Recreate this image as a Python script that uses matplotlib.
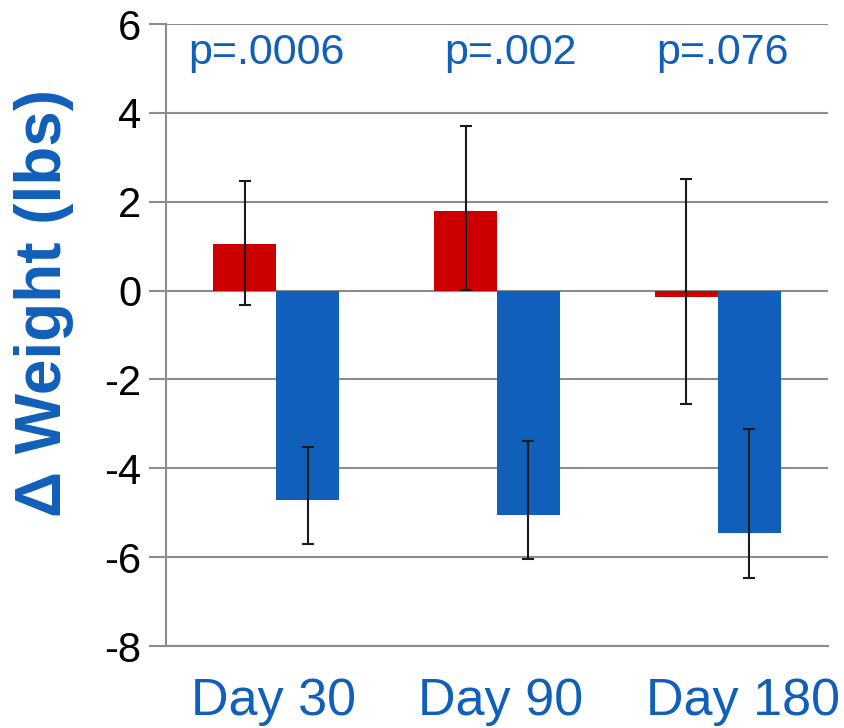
import matplotlib
matplotlib.use("Agg")
import matplotlib.pyplot as plt
import matplotlib.transforms as mtransforms
import numpy as np

categories = ["Day 30", "Day 90", "Day 180"]
red_values = [1.05, 1.79, -0.15]
red_err_low = [1.37, 1.77, 2.40]
red_err_high = [1.41, 1.91, 2.66]
blue_values = [-4.71, -5.04, -5.45]
blue_err_low = [1.00, 1.01, 1.01]
blue_err_high = [1.18, 1.66, 2.33]
p_labels = ["p=.0006", "p=.002", "p=.076"]
y_ticks = [-8, -6, -4, -2, 0, 2, 4, 6]

RED = "#CC0000"
BLUE = "#105FBA"
GRID = "#8C8C8C"

plt.rcParams['font.family'] = ['Liberation Sans', 'DejaVu Sans']

fig = plt.figure(figsize=(8.44, 7.28), dpi=100)
ax = fig.add_axes([0.1967, 0.1126, 0.7843, 0.8544])

x = np.arange(len(categories))
w = 0.285
ax.bar(x - w / 2, red_values, w, color=RED, zorder=3)
ax.bar(x + w / 2, blue_values, w, color=BLUE, zorder=3)
ax.errorbar(x - w / 2, red_values, yerr=[red_err_low, red_err_high], fmt='none',
            ecolor='#1a1a1a', elinewidth=1.5, capsize=4.5, capthick=1.5, zorder=4)
ax.errorbar(x + w / 2, blue_values, yerr=[blue_err_low, blue_err_high], fmt='none',
            ecolor='#1a1a1a', elinewidth=1.5, capsize=4.5, capthick=1.5, zorder=4)

ax.set_xlim(-0.5, 2.5)
ax.set_ylim(-8, 6)
ax.set_yticks(y_ticks)
ax.set_yticklabels([str(t) for t in y_ticks], fontsize=30)
ax.set_xticks(x)
ax.set_xticklabels(categories, fontsize=37.5, color=BLUE)
ax.tick_params(axis='x', length=0, pad=22)
ax.tick_params(axis='y', length=12, width=1.5, color=GRID, pad=6)

# horizontal nudges of the category labels (pixels)
label_dx = [-3, 4, 25]
for lbl, dx in zip(ax.get_xticklabels(), label_dx):
    off = mtransforms.ScaledTranslation(dx / 100, 0, fig.dpi_scale_trans)
    lbl.set_transform(lbl.get_transform() + off)

ax.yaxis.grid(True, color=GRID, linewidth=1.5, zorder=0)
ax.set_axisbelow(True)
for s in ['top', 'right']:
    ax.spines[s].set_visible(False)
ax.spines['left'].set_color(GRID)
ax.spines['left'].set_linewidth(1.5)
ax.spines['bottom'].set_color(GRID)
ax.spines['bottom'].set_linewidth(1.5)

fig.text(44 / 844, 1 - 303 / 728, "\u0394 Weight (lbs)", fontsize=46, fontweight='bold',
         color=BLUE, rotation=90, ha='center', va='center')

p_x = [-0.045, 1.06, 2.02]
for px, lab in zip(p_x, p_labels):
    ax.text(px, 5.35, lab, fontsize=31, color=BLUE, ha='center', va='center')

fig.savefig("out.png", dpi=100)
